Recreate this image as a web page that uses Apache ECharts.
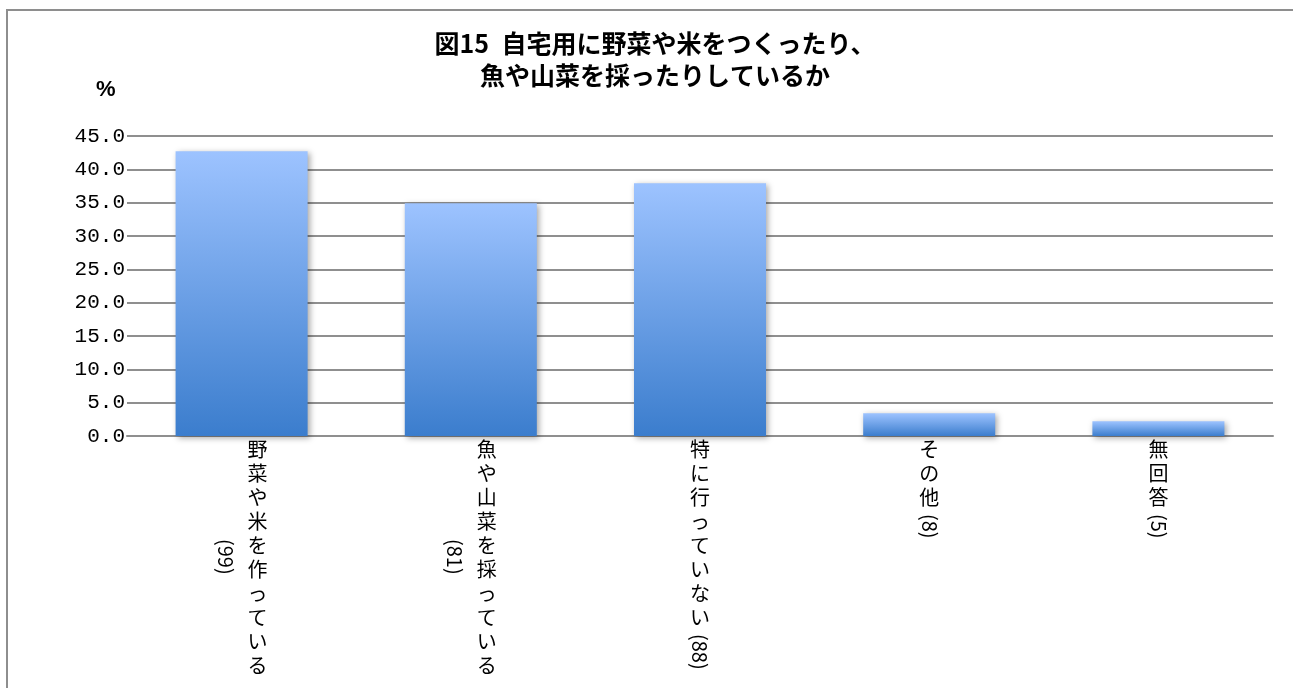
<!DOCTYPE html>
<html>
<head>
<meta charset="utf-8">
<script src="https://cdn.jsdelivr.net/npm/echarts@6/dist/echarts.min.js"></script>
<style>
  html, body { margin: 0; padding: 0; background: #fff; overflow: hidden; }
  #frame { position: absolute; left: 6px; top: 9px; width: 1400px; height: 800px;
           border: 2px solid #8e8e8e; box-sizing: border-box; }
  #chart { position: absolute; left: 0; top: 0; width: 1293px; height: 688px; }
</style>
</head>
<body>
<div id="frame"></div>
<div id="chart"></div>
<script>
// ---- data ----
const titleText = '図15\u2002自宅用に野菜や米をつくったり、\n魚や山菜を採ったりしているか';
const unitLabel = '%';
const categories = ['野菜や米を作っている', '魚や山菜を採っている', '特に行っていない', 'その他', '無回答'];
const counts = [99, 81, 88, 8, 5];          // respondents per answer
const percents = [42.7, 34.9, 37.9, 3.4, 2.2]; // share of respondents, %
const yMin = 0;
const yMax = 45;
const yStep = 5;

// ---- vertical (tategaki) category labels ----
const PITCH = 24;          // vertical advance of one stacked character
const LABEL_FONT = 20;
const WRAP_AFTER = 8;      // longer names push the count into a second column
const COUNT_LEN = 36;      // approximate length of a rotated "(nn)" run
const COLUMN_GAP = 32;     // distance between the two columns of a wrapped label

const wraps = categories.map(n => n.length > WRAP_AFTER);
const countText = i => '(' + counts[i] + ')';

// upright stacked characters; wrapped names move half a column to the right
const nameAxisData = categories.map((name, i) => ({
  value: name,
  textStyle: { padding: wraps[i] ? [0, 0, 0, COLUMN_GAP] : 0 }
}));

// rotated "(n)" runs start below the name, or centred beside it when wrapped
const countAxisData = categories.map((name, i) => ({
  value: name,
  textStyle: {
    padding: [0, 0, 0, wraps[i] ? (name.length * PITCH - COUNT_LEN) / 2 : name.length * PITCH + 5]
  }
}));

const gridBox = { left: 127, right: 20, top: 136, bottom: 252 };
// same plot box, moved half a column left: holds the counts of wrapped labels
const shiftedBox = {
  left: gridBox.left - COLUMN_GAP / 2,
  right: gridBox.right + COLUMN_GAP / 2,
  top: gridBox.top,
  bottom: gridBox.bottom
};
const lineGray = '#8f8f8f';
const labelFont = '"Noto Sans CJK JP", sans-serif';

function countAxis(gridIndex, showWrapped) {
  return {
    type: 'category',
    gridIndex: gridIndex,
    data: countAxisData,
    axisLine: { show: false },
    axisTick: { show: false },
    splitLine: { show: false },
    axisLabel: {
      interval: 0,
      margin: 1,
      rotate: -90,
      fontFamily: labelFont,
      fontSize: LABEL_FONT,
      color: '#000',
      formatter: (v, i) => (wraps[i] === showWrapped ? countText(i) : '')
    }
  };
}

function hiddenValueAxis(gridIndex) {
  return { type: 'value', gridIndex: gridIndex, min: yMin, max: yMax, interval: yStep, show: false };
}

const chart = echarts.init(document.getElementById('chart'), null, { renderer: 'canvas' });

chart.setOption({
  animation: false,
  title: [
    {
      text: titleText,
      left: 655,
      top: 27,
      textAlign: 'center',
      padding: 0,
      textStyle: {
        fontFamily: labelFont,
        fontWeight: 'bold',
        fontSize: 25,
        lineHeight: 32,
        color: '#000'
      }
    },
    {
      text: unitLabel,
      left: 96,
      top: 79,
      padding: 0,
      textStyle: {
        fontFamily: '"Liberation Sans", Arial, sans-serif',
        fontWeight: 'bold',
        fontSize: 22,
        color: '#000'
      }
    }
  ],
  grid: [
    Object.assign({ containLabel: false }, gridBox),
    Object.assign({ containLabel: false }, gridBox),
    Object.assign({ containLabel: false }, shiftedBox)
  ],
  xAxis: [
    {
      type: 'category',
      gridIndex: 0,
      data: nameAxisData,
      axisLine: { show: true, lineStyle: { color: lineGray, width: 2 } },
      axisTick: { show: false },
      axisLabel: {
        interval: 0,
        margin: 1,
        fontFamily: labelFont,
        fontSize: LABEL_FONT,
        lineHeight: PITCH,
        color: '#000',
        formatter: v => v.split('').join('\n')
      }
    },
    countAxis(1, false),
    countAxis(2, true)
  ],
  yAxis: [
    {
      type: 'value',
      gridIndex: 0,
      min: yMin,
      max: yMax,
      interval: yStep,
      axisLine: { show: false },
      axisTick: { show: false },
      splitLine: { show: true, lineStyle: { color: lineGray, width: 2 } },
      axisLabel: {
        margin: 2,
        fontFamily: '"Liberation Mono", monospace',
        fontSize: 21,
        color: '#000',
        formatter: v => v.toFixed(1)
      }
    },
    hiddenValueAxis(1),
    hiddenValueAxis(2)
  ],
  series: [
    {
      type: 'bar',
      xAxisIndex: 0,
      yAxisIndex: 0,
      data: percents,
      barWidth: '57.6%',
      itemStyle: {
        color: {
          type: 'linear', x: 0, y: 0, x2: 0, y2: 1,
          colorStops: [
            { offset: 0, color: '#9dc3ff' },
            { offset: 1, color: '#3b7dcd' }
          ]
        },
        shadowBlur: 6,
        shadowOffsetX: 2,
        shadowOffsetY: 2,
        shadowColor: 'rgba(0,0,0,0.35)'
      }
    }
  ]
});
</script>
</body>
</html>
